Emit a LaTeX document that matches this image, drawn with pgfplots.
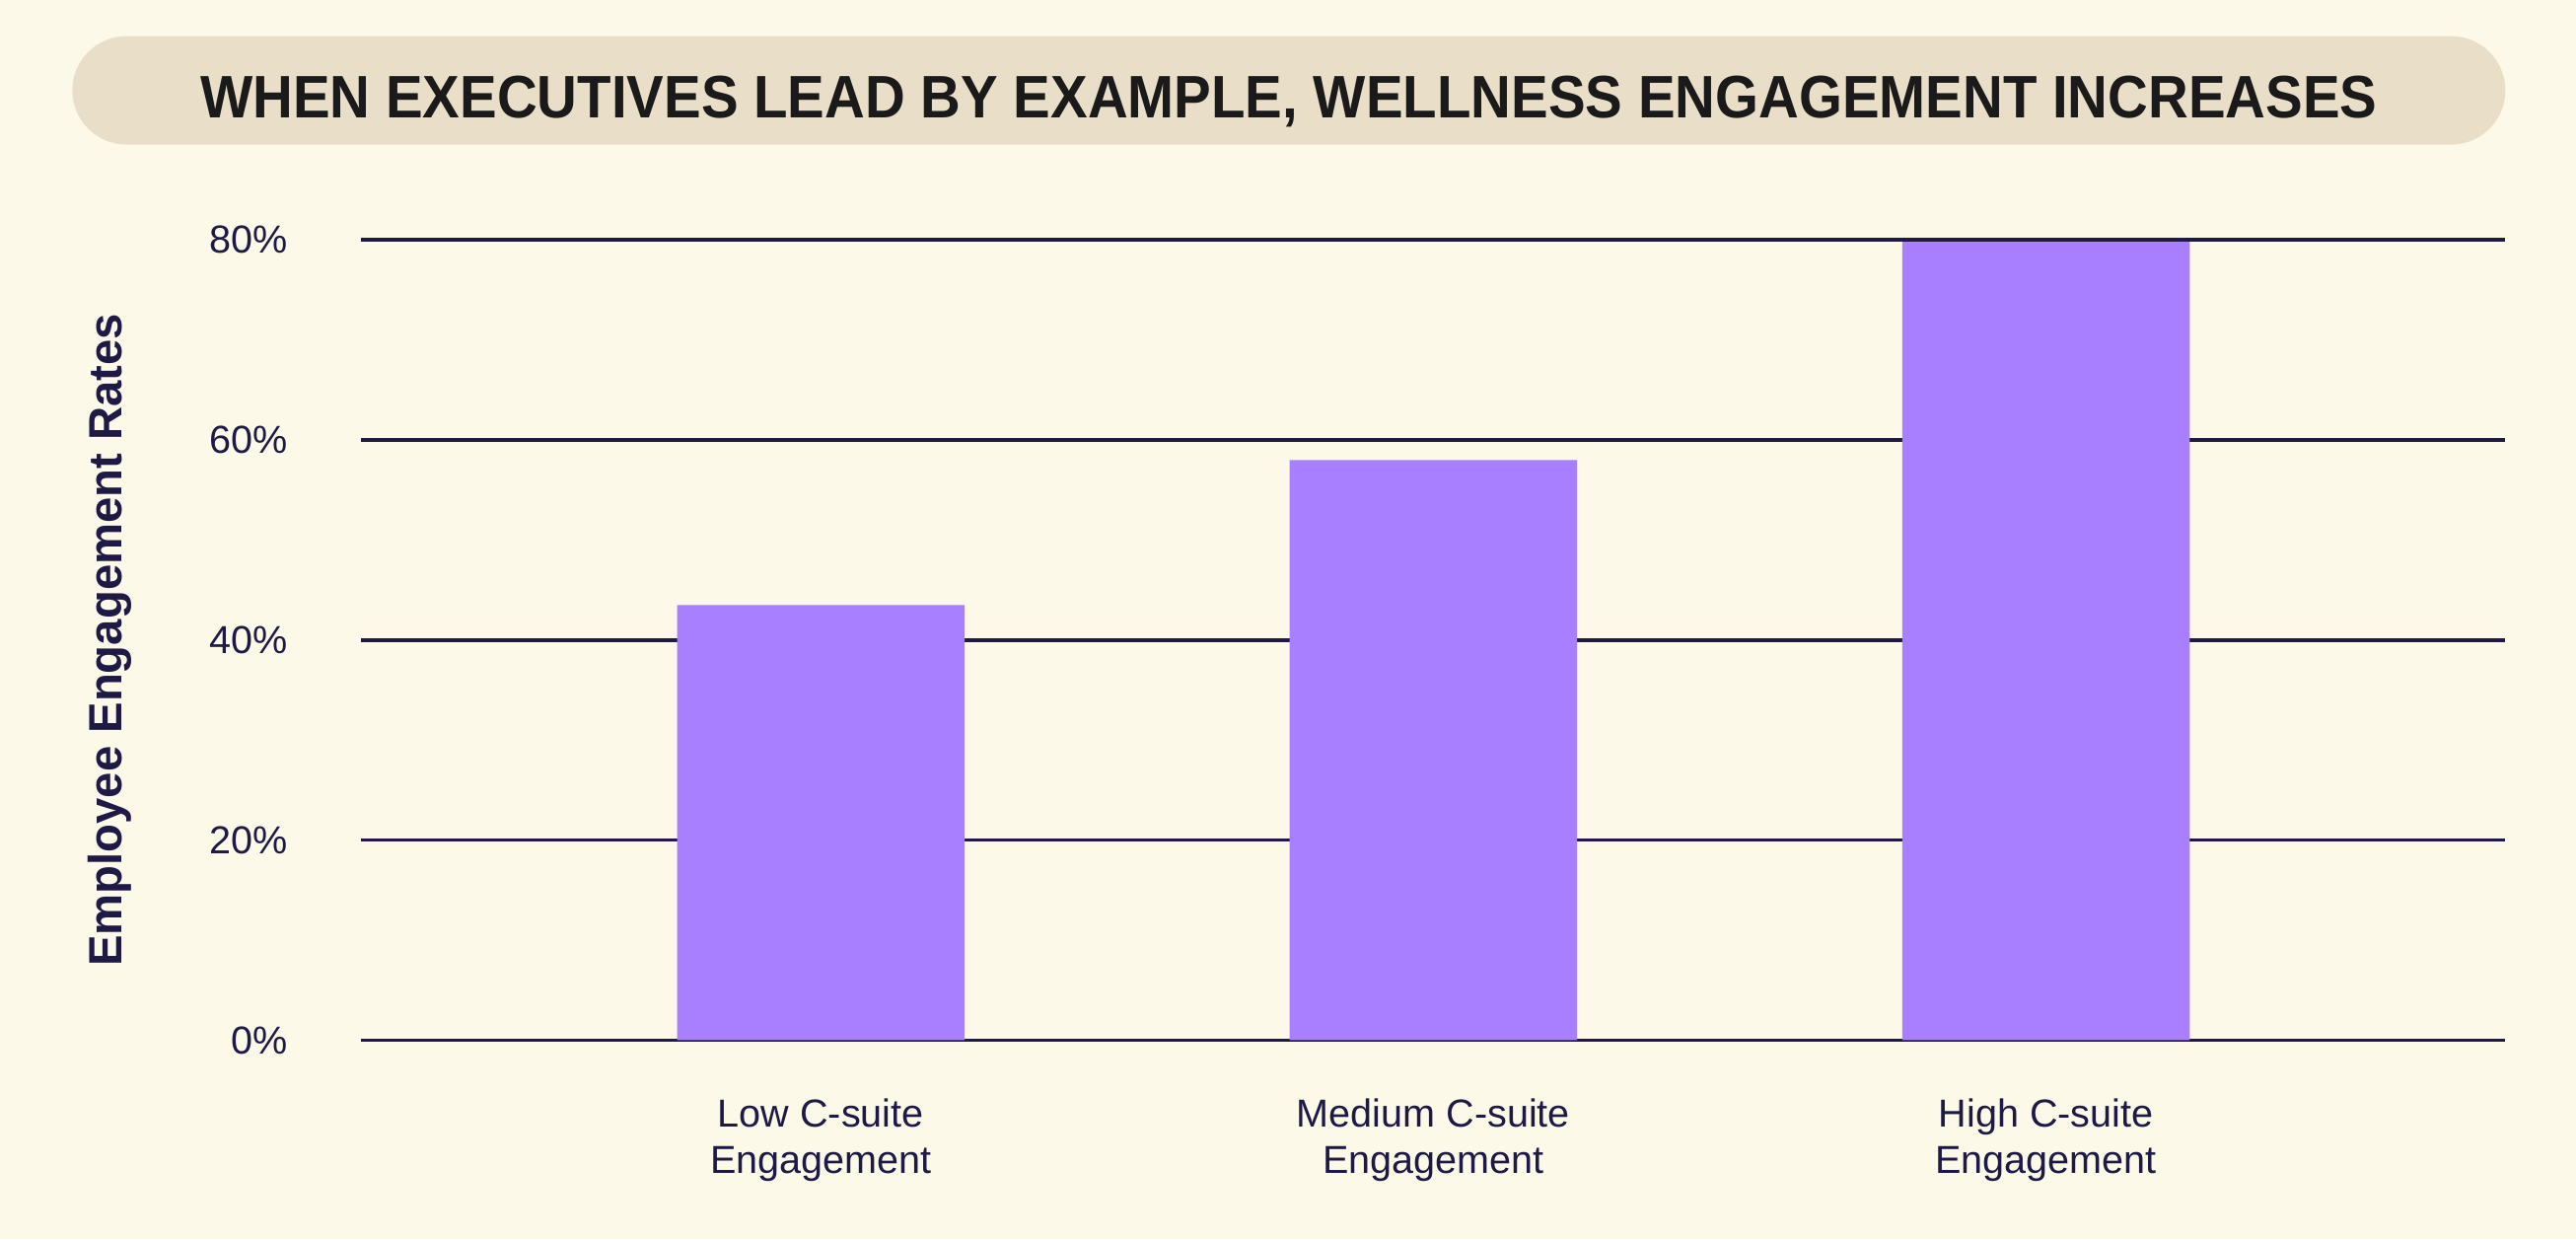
\documentclass[border=0pt]{standalone}
\usepackage{fontspec}
\setmainfont{Liberation Sans}
\usepackage{pgfplots}
\pgfplotsset{compat=1.18}
\definecolor{bgc}{HTML}{FCF9E9}
\definecolor{pill}{HTML}{E9DFC8}
\definecolor{barc}{HTML}{A87FFE}
\definecolor{navy}{HTML}{1E1A45}
\definecolor{titlec}{HTML}{1A1A1A}
\begin{document}
\begin{tikzpicture}
\useasboundingbox (0,0) rectangle (627.2pt,301.6pt);
\fill[bgc] (0,0) rectangle (627.2pt,301.6pt);
\fill[pill,rounded corners=13.2pt] (17.6pt,266.4pt) rectangle (610pt,292.8pt);
\node[titlec,anchor=base,inner sep=0pt] at (313.8pt,273.0pt) {\resizebox{530pt}{10.2pt}{\bfseries WHEN EXECUTIVES LEAD BY EXAMPLE, WELLNESS ENGAGEMENT INCREASES}};
\begin{axis}[
  at={(88pt,48.4pt)}, anchor=south west,
  scale only axis, width=522pt, height=194.8pt,
  xmin=-0.75, xmax=2.75, ymin=0, ymax=80,
  axis line style={draw=none},
  major tick length=0pt,
  /pgf/number format/assume math mode=true,
  xtick={0,1,2},
  xticklabels={{Low C-suite\\Engagement},{Medium C-suite\\Engagement},{High C-suite\\Engagement}},
  xticklabel style={align=center, font={\fontsize{9.5}{11.2}\selectfont}, text=navy, yshift=-10.8pt},
  ytick={0,20,40,60,80},
  yticklabel={\pgfmathprintnumber{\tick}\%},
  yticklabel style={anchor=east, font={\fontsize{9.5}{11.4}\selectfont}, text=navy, xshift=-14.4pt},
  ymajorgrids, grid style={navy, line width=0.85pt},
  ylabel={\resizebox{159pt}{!}{\bfseries Employee Engagement Rates}},
  every axis y label/.style={at={(axis description cs:-0.1175,0.5)}, rotate=90, anchor=center, text=navy, inner sep=0pt},
  ybar, bar width=70pt,
]
\addplot[fill=barc, draw=none] coordinates {(0,43.5) (1,58.0) (2,79.8)};
\end{axis}
\end{tikzpicture}
\end{document}
